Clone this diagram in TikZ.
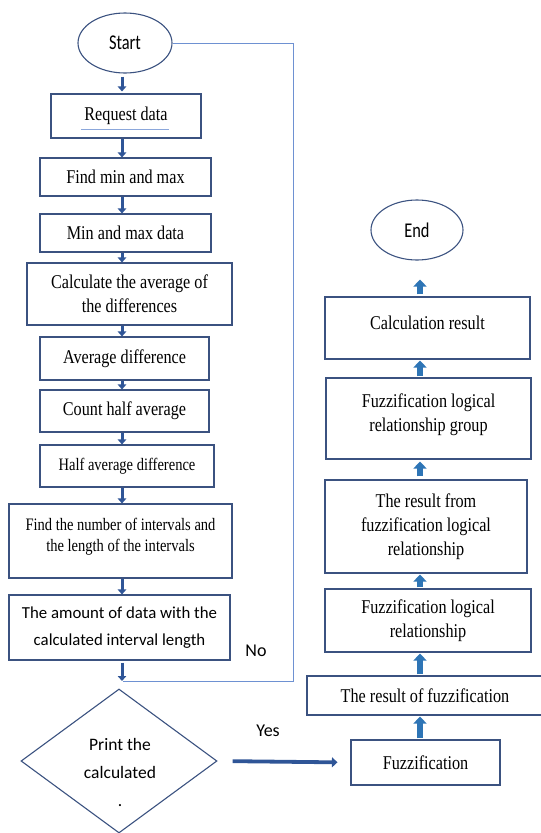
\documentclass[tikz,border=0pt]{standalone}
\usepackage{fontspec}
\setmainfont{Liberation Serif}[FakeStretch=0.83]
\newfontfamily\calib{Carlito}
\newfontfamily\calibnarrow{Carlito}[FakeStretch=0.78]
\usetikzlibrary{shapes.geometric,arrows.meta}

\definecolor{boxblue}{RGB}{59,82,128}
\definecolor{arrowblue}{RGB}{47,85,151}
\definecolor{upblue}{RGB}{46,117,182}
\definecolor{loopblue}{RGB}{110,145,210}

\begin{document}
\begin{tikzpicture}[x=1pt, y=-1pt,
    box/.style={draw=boxblue, line width=1.1pt, align=center, inner sep=2pt,
        font=\fontsize{19.5}{24}\selectfont},
    sbox/.style={box, font=\calib\fontsize{16.8}{27}\selectfont},
    term/.style={ellipse, draw=boxblue, line width=1.1pt, inner sep=0pt,
        font=\calibnarrow\fontsize{21}{24}\selectfont},
    down/.style={draw=arrowblue, line width=3pt, -{Triangle[width=8.5pt,length=5pt]}},
    up/.style={draw=upblue, line width=5.5pt, -{Triangle[width=13pt,length=7pt]}},
    yesline/.style={draw=arrowblue, line width=3.8pt, -{Triangle[width=10pt,length=5.5pt]}},
    loopline/.style={draw=loopblue, line width=0.9pt},
    lbl/.style={font=\calib\fontsize{18}{22}\selectfont}]
    \useasboundingbox (0,0) rectangle (541,833);

    % Left column
    \node[term, minimum width=94, minimum height=60] (start) at (125,43) {Start};
    \node[box, minimum width=150, minimum height=44] (req) at (126,116) {Request data};
    \node[box, minimum width=171, minimum height=38] (findmm) at (125.5,177) {Find min and max};
    \node[box, minimum width=171, minimum height=38] (mmdata) at (125.5,233) {Min and max data};
    \node[box, minimum width=205, minimum height=62] (calcavg) at (129.5,294)
        {Calculate the average of\\the differences};
    \node[box, minimum width=169, minimum height=43] (avgdiff) at (124.5,358.5) {Average difference};
    \node[box, minimum width=169, minimum height=42] (counthalf) at (124.5,411) {Count half average};
    \node[box, minimum width=174, minimum height=42, font=\fontsize{17.5}{21}\selectfont]
        (halfdiff) at (127,466) {Half average difference};
    \node[box, minimum width=223, minimum height=74, font=\fontsize{17.5}{21}\selectfont]
        (findint) at (120.5,541) {Find the number of intervals and\\the length of the intervals\\[-8pt]};
    \node[sbox, minimum width=221, minimum height=65] (amount) at (119.5,627.5)
        {The amount of data with the\\calculated interval length};
    \node[diamond, draw=boxblue, line width=1.1pt, minimum width=196, minimum height=144,
        inner sep=0pt] (dec) at (119,761) {};
    \node[lbl, align=center, font=\calib\fontsize{17.5}{28}\selectfont] (dectxt) at (120,772)
        {Print the\\calculated\\.};

    % Right column
    \node[box, minimum width=149, minimum height=45] (fuzz) at (425.5,762.5) {Fuzzification};
    \node[box, minimum width=236, minimum height=39] (resfuzz) at (425,695.5) {The result of fuzzification};
    \node[box, minimum width=206, minimum height=63] (fuzzrel) at (428,620.5)
        {Fuzzification logical\\relationship};
    \node[box, minimum width=202, minimum height=93] (resfrom) at (426,526.5)
        {The result from\\fuzzification logical\\relationship};
    \node[box, minimum width=205, minimum height=81] (fuzzgroup) at (428.5,418.5)
        {Fuzzification logical\\relationship group\\[-13pt]};
    \node[box, minimum width=205, minimum height=62] (calcres) at (427.5,328)
        {Calculation result\\[-14pt]};
    \node[term, minimum width=92, minimum height=60] (end) at (417,230) {End};

    % labels
    \node[lbl] (no) at (256,651) {No};
    \node[lbl] (yes) at (268,731) {Yes};

    % underline under request data
    \draw[loopblue!80, line width=0.6pt] ([xshift=31pt,yshift=9pt]req.south west)
        -- ([xshift=-33pt,yshift=9pt]req.south east);

    % Down arrows
    \coordinate (ax) at (122,0);
    \coordinate (join) at (123,681);
    \draw[down, shorten <=3pt, shorten >=2pt] (start.south -| ax) -- (req.north -| ax);
    \draw[down] (req.south -| ax) -- (findmm.north -| ax);
    \draw[down] (findmm.south -| ax) -- (mmdata.north -| ax);
    \draw[down] (mmdata.south -| ax) -- (calcavg.north -| ax);
    \draw[down] (calcavg.south -| ax) -- (avgdiff.north -| ax);
    \draw[down] (avgdiff.south -| ax) -- (counthalf.north -| ax);
    \draw[down] (counthalf.south -| ax) -- (halfdiff.north -| ax);
    \draw[down] (halfdiff.south -| ax) -- (findint.north -| ax);
    \draw[down] (findint.south -| ax) -- (amount.north -| ax);
    \draw[down, shorten <=2pt] (amount.south -| ax) -- (join -| ax);

    % No loop
    \coordinate (rail) at (293,0);
    \draw[loopline] (start.east) -- (start.east -| rail) -- (join -| rail) -- (join);

    % Yes
    \draw[yesline, shorten <=15pt, shorten >=13pt] (dec.east) -- (fuzz.west);

    % Up arrows
    \coordinate (bx) at (420,0);
    \draw[up, shorten <=1pt, shorten >=1pt] (fuzz.north -| bx) -- (resfuzz.south -| bx);
    \draw[up, shorten <=1pt, shorten >=1pt] (resfuzz.north -| bx) -- (fuzzrel.south -| bx);
    \draw[up, shorten <=1pt, shorten >=1pt] (fuzzrel.north -| bx) -- (resfrom.south -| bx);
    \draw[up, shorten <=3pt, shorten >=2pt] (resfrom.north -| bx) -- (fuzzgroup.south -| bx);
    \draw[up, shorten <=1pt, shorten >=1pt] (fuzzgroup.north -| bx) -- (calcres.south -| bx);
    \draw[up, shorten <=2pt, shorten >=19pt] (calcres.north -| bx) -- (end.south -| bx);
\end{tikzpicture}
\end{document}
